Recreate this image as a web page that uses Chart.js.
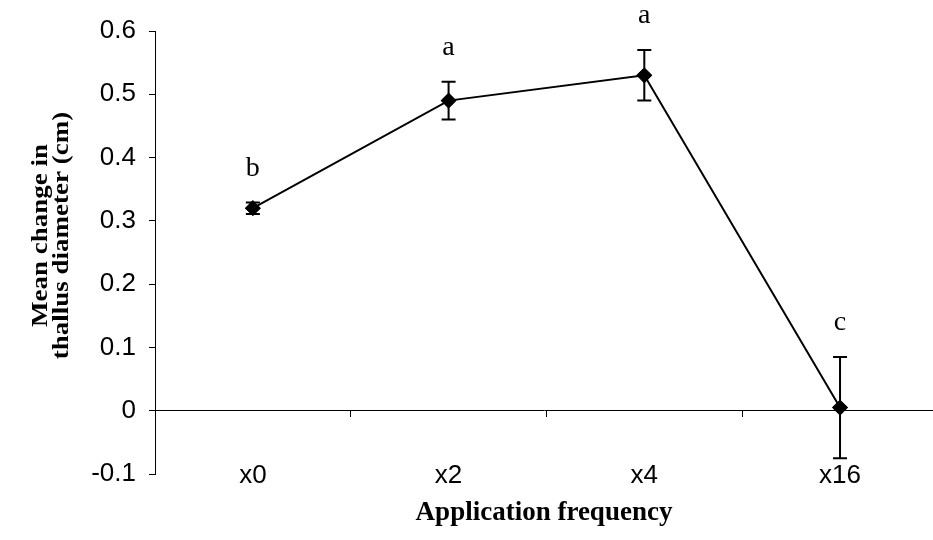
<!DOCTYPE html>
<html>
<head>
<meta charset="utf-8">
<script src="https://cdn.jsdelivr.net/npm/chart.js@4.4.1/dist/chart.umd.min.js"></script>
<style>
  html, body { margin: 0; padding: 0; background: #fff; overflow: hidden; }
  #wrap { width: 933px; height: 540px; }
</style>
</head>
<body>
<div id="wrap"><canvas id="chart" width="933" height="540"></canvas></div>
<script>
// data
const categories = ['x0', 'x2', 'x4', 'x16'];
const meanChange = [0.32, 0.49, 0.53, 0.005];
const errorSize = [0.009, 0.03, 0.04, 0.08];
const groupLetters = ['b', 'a', 'a', 'c'];
const yTicks = [-0.1, 0, 0.1, 0.2, 0.3, 0.4, 0.5, 0.6];
const catPositions = [0, 1, 2, 3];
const boundaryTicks = [0.5, 1.5, 2.5];
const yTitleLines = ['Mean change in', 'thallus diameter (cm)'];

const points = meanChange.map((v, i) => ({ x: catPositions[i], y: v }));

const serif = '"Liberation Serif", "Times New Roman", serif';
const sans = '"Liberation Sans", Arial, sans-serif';

// error bars, letters, category labels and the y title
const extras = {
  id: 'extras',
  afterDatasetsDraw(chart) {
    const ctx = chart.ctx;
    const xs = chart.scales.x;
    const ys = chart.scales.y;
    const area = chart.chartArea;
    ctx.save();
    ctx.strokeStyle = '#000';
    ctx.fillStyle = '#000';
    ctx.lineWidth = 2;
    ctx.textAlign = 'center';
    ctx.textBaseline = 'middle';
    for (let i = 0; i < meanChange.length; i++) {
      const px = xs.getPixelForValue(catPositions[i]);
      const top = ys.getPixelForValue(meanChange[i] + errorSize[i]);
      const bot = ys.getPixelForValue(meanChange[i] - errorSize[i]);
      ctx.beginPath();
      ctx.moveTo(px, top); ctx.lineTo(px, bot);
      ctx.moveTo(px - 7, top); ctx.lineTo(px + 7, top);
      ctx.moveTo(px - 7, bot); ctx.lineTo(px + 7, bot);
      ctx.stroke();

      ctx.font = '28px ' + serif;
      ctx.fillText(groupLetters[i], px, top - 34);

      ctx.font = '26px ' + sans;
      ctx.fillText(categories[i], px, area.bottom + 2);
    }

    // two-line y title, slightly condensed like the original
    ctx.translate(52, (area.top + area.bottom) / 2 - 17);
    ctx.rotate(-Math.PI / 2);
    ctx.scale(1, 0.82);
    ctx.font = 'bold 27px ' + serif;
    ctx.fillText(yTitleLines[0], 0, -12.5);
    ctx.fillText(yTitleLines[1], 0, 12.5);
    ctx.restore();

    // points on top of the bars
    chart.getDatasetMeta(0).data.forEach(el => el.draw(ctx));
  }
};

new Chart(document.getElementById('chart'), {
  type: 'line',
  data: {
    datasets: [{
      data: points,
      borderColor: '#000',
      borderWidth: 2,
      pointStyle: 'rectRot',
      pointRadius: 6.5,
      pointBackgroundColor: '#000',
      pointBorderColor: '#000',
      tension: 0,
      xAxisID: 'x',
      yAxisID: 'y'
    }]
  },
  options: {
    responsive: false,
    animation: false,
    layout: { autoPadding: false, padding: { top: 31, right: 0, left: 0, bottom: 0 } },
    plugins: { legend: { display: false }, tooltip: { enabled: false } },
    scales: {
      y: {
        type: 'linear',
        position: 'left',
        min: -0.1,
        max: 0.6,
        afterBuildTicks: s => { s.ticks = yTicks.map(v => ({ value: v })); },
        afterFit: s => { s.width = 155; },
        ticks: {
          color: '#000',
          font: { family: sans, size: 26 },
          padding: 13,
          callback: v => String(Math.round(v * 10) / 10)
        },
        grid: { drawOnChartArea: false, color: '#000', tickLength: 6 },
        border: { color: '#000', width: 1 }
      },
      x: {
        type: 'linear',
        position: { y: 0 },
        min: -0.5,
        max: 3.475,
        afterBuildTicks: s => { s.ticks = boundaryTicks.map(v => ({ value: v })); },
        ticks: { display: false },
        grid: { drawOnChartArea: false, color: '#000', tickLength: 6 },
        border: { color: '#000', width: 1 }
      },
      xl: {
        type: 'linear',
        position: 'bottom',
        min: -0.5,
        max: 3.475,
        afterFit: s => { s.height = 66; },
        ticks: { display: false },
        grid: { display: false, drawTicks: false },
        border: { display: false },
        title: {
          display: true,
          text: 'Application frequency',
          color: '#000',
          font: { family: serif, size: 27, weight: 'bold' },
          padding: { top: 0, bottom: 11 }
        }
      }
    }
  },
  plugins: [extras]
});
</script>
</body>
</html>
